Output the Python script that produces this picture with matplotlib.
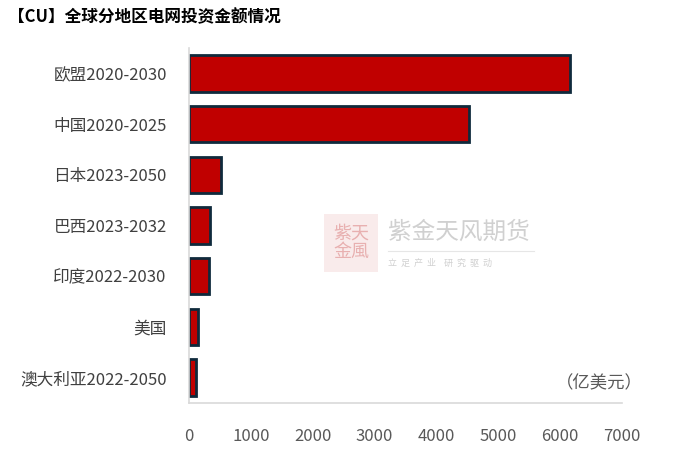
import matplotlib.pyplot as plt
from matplotlib.patches import FancyBboxPatch

plt.rcParams['font.family'] = ['Noto Sans CJK SC', 'DejaVu Sans']

regions = ['欧盟2020-2030', '中国2020-2025', '日本2023-2050', '巴西2023-2032',
           '印度2022-2030', '美国', '澳大利亚2022-2050']
amounts = [6160, 4530, 520, 340, 320, 150, 115]
xticks = [0, 1000, 2000, 3000, 4000, 5000, 6000, 7000]

fig = plt.figure(figsize=(6.87, 4.5), dpi=100)
ax = fig.add_axes([189 / 687, 1 - 403 / 450, 433 / 687, 355 / 450])

ax.barh(range(len(regions)), amounts, height=0.72, color='#c00000',
        edgecolor='#0f2a3c', linewidth=2)
ax.set_ylim(len(regions) - 0.5, -0.5)
ax.set_xlim(0, 7000)
ax.set_yticks(range(len(regions)))
ax.set_yticklabels(regions, fontsize=12, color='#404040')
ax.set_xticks(xticks)
ax.set_xticklabels([str(t) for t in xticks], fontsize=12, color='#595959')
ax.tick_params(axis='both', length=0)
ax.tick_params(axis='x', pad=18)
ax.tick_params(axis='y', pad=16)
for s in ['top', 'right']:
    ax.spines[s].set_visible(False)
ax.spines['left'].set_color('#d9d9d9')
ax.spines['bottom'].set_color('#d9d9d9')
ax.spines['left'].set_linewidth(1.2)
ax.spines['bottom'].set_linewidth(1.2)

fig.text(8 / 687, 1 - 17 / 450, '【CU】全球分地区电网投资金额情况', fontsize=12,
         fontweight='bold', color='#000000', va='center')
fig.text(643 / 687, 1 - 383 / 450, '（亿美元）', fontsize=12.5, color='#595959',
         ha='right', va='center')

# watermark
fig.patches.append(FancyBboxPatch((324 / 687, 1 - 272 / 450), 54 / 687, 58 / 450,
                                  boxstyle='square,pad=0', transform=fig.transFigure,
                                  facecolor='#f6dede', edgecolor='none', alpha=0.6))
fig.text(351 / 687, 1 - 243 / 450, '紫天\n金風', fontsize=13, color='#e8b0b0',
         ha='center', va='center', linespacing=1.0)
fig.text(388 / 687, 1 - 232 / 450, '紫金天风期货', fontsize=17, color='#d0d0d0',
         va='center')
fig.text(388 / 687, 1 - 263 / 450, '立  足  产  业    研  究  驱  动', fontsize=6.5,
         color='#d0d0d0', va='center')
fig.lines.append(plt.Line2D([388 / 687, 534 / 687], [1 - 251 / 450, 1 - 251 / 450],
                            transform=fig.transFigure, color='#e6e6e6', lw=0.8))

fig.savefig('out.png', dpi=100)
